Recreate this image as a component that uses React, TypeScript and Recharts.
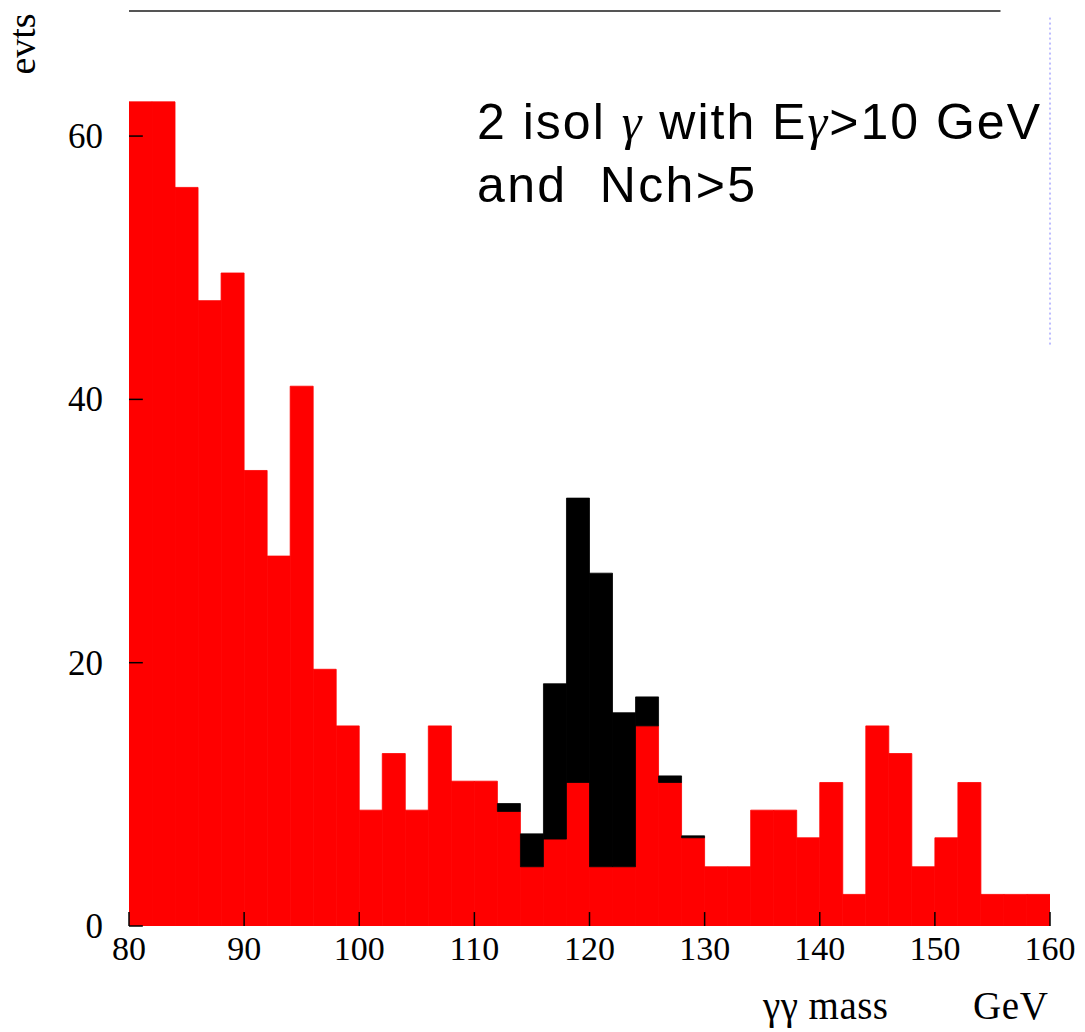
import React from 'react';
import { ComposedChart, Bar, XAxis, YAxis, ReferenceLine } from 'recharts';

// bin centres of 2 GeV bins, 80..160 GeV
const massBinCenters = [
  81, 83, 85, 87, 89, 91, 93, 95, 97, 99,
  101, 103, 105, 107, 109, 111, 113, 115, 117, 119,
  121, 123, 125, 127, 129, 131, 133, 135, 137, 139,
  141, 143, 145, 147, 149, 151, 153, 155, 157, 159,
];

// background (red) events per bin
const backgroundEvts = [
  62.6, 62.6, 56.1, 47.5, 49.6, 34.6, 28.1, 41.0, 19.5, 15.2,
  8.8, 13.1, 8.8, 15.2, 11.0, 11.0, 8.7, 4.5, 6.6, 10.9,
  4.5, 4.5, 15.2, 10.9, 6.7, 4.5, 4.5, 8.8, 8.8, 6.7,
  10.9, 2.4, 15.2, 13.1, 4.5, 6.7, 10.9, 2.4, 2.4, 2.4,
];

// signal (black) events stacked on top
const signalEvts = [
  0, 0, 0, 0, 0, 0, 0, 0, 0, 0,
  0, 0, 0, 0, 0, 0, 0.6, 2.5, 11.8, 21.6,
  22.3, 11.7, 2.2, 0.5, 0.15, 0, 0, 0, 0, 0,
  0, 0, 0, 0, 0, 0, 0, 0, 0, 0,
];

const xTicks = [80, 90, 100, 110, 120, 130, 140, 150, 160];
const yTicks = [0, 20, 40, 60];

const data = massBinCenters.map((x, i) => ({ x, bg: backgroundEvts[i], sig: signalEvts[i] }));

const SERIF = '"Liberation Serif", "Times New Roman", serif';
const SANS = '"Liberation Sans", Arial, sans-serif';

const X_DOMAIN: [number, number] = [80, 160];
const Y_DOMAIN: [number, number] = [0, 69.5];
const MARGIN = { top: 11, right: 35, bottom: 56, left: 29 };

// inward tick-mark lengths in axis units (about 14 px)
const X_TICK_LEN = 1.06;
const Y_TICK_LEN = 1.2;

const YTick = (props: any) => {
  const { x, y, payload } = props;
  return (
    <text x={x} y={y} dy={12} textAnchor="end" fontFamily={SERIF} fontSize={35} fill="#000">
      {payload.value}
    </text>
  );
};

const XTick = (props: any) => {
  const { x, y, payload } = props;
  return (
    <text x={x} y={y} dy={24} textAnchor="middle" fontFamily={SERIF} fontSize={34} fill="#000">
      {payload.value}
    </text>
  );
};

export default function App() {
  return (
    <div style={{ position: 'absolute', left: 0, top: 0, width: 1085, height: 1032, background: '#fff' }}>
      <ComposedChart
        width={1085}
        height={1032}
        data={data}
        margin={MARGIN}
        barCategoryGap={0}
        barGap={0}
      >
        <XAxis
          dataKey="x"
          type="number"
          domain={X_DOMAIN}
          ticks={xTicks}
          allowDataOverflow
          height={50}
          axisLine={false}
          tickLine={false}
          tickSize={0}
          tickMargin={10}
          tick={<XTick />}
          interval={0}
        />
        <YAxis
          type="number"
          domain={Y_DOMAIN}
          ticks={yTicks}
          allowDataOverflow
          width={100}
          axisLine={false}
          tickLine={false}
          tickSize={0}
          tickMargin={26}
          tick={<YTick />}
          interval={0}
        />
        <Bar dataKey="bg" stackId="a" fill="#ff0000" stroke="#ff0000" strokeWidth={0.8} isAnimationActive={false} />
        <Bar dataKey="sig" stackId="a" fill="#000000" stroke="#000000" strokeWidth={0.8} isAnimationActive={false} />
      </ComposedChart>

      {/* overlay chart with the same scales: frame line and inward tick marks drawn above the bars */}
      <div style={{ position: 'absolute', left: 0, top: 0, pointerEvents: 'none' }}>
        <ComposedChart width={1085} height={1032} data={data} margin={MARGIN}>
          <XAxis
            dataKey="x"
            type="number"
            domain={X_DOMAIN}
            ticks={xTicks}
            allowDataOverflow
            height={50}
            axisLine={false}
            tickLine={false}
            tick={false}
          />
          <YAxis
            type="number"
            domain={Y_DOMAIN}
            ticks={yTicks}
            allowDataOverflow
            width={100}
            axisLine={false}
            tickLine={false}
            tick={false}
          />
          <ReferenceLine
            segment={[{ x: 80, y: 69.5 }, { x: 155.7, y: 69.5 }]}
            stroke="#555"
            strokeWidth={2}
            ifOverflow="visible"
          />
          <ReferenceLine
            segment={[{ x: 160, y: 69 }, { x: 160, y: 44 }]}
            stroke="#7a7aff"
            strokeDasharray="2 3"
            strokeWidth={1}
            ifOverflow="visible"
          />
          {xTicks.map((t) => (
            <ReferenceLine
              key={'xt' + t}
              segment={[{ x: t, y: 0 }, { x: t, y: X_TICK_LEN }]}
              stroke="#000"
              strokeWidth={1.5}
              ifOverflow="visible"
            />
          ))}
          {yTicks.map((t) => (
            <ReferenceLine
              key={'yt' + t}
              segment={[{ x: 80, y: t }, { x: 80 + Y_TICK_LEN, y: t }]}
              stroke="#000"
              strokeWidth={1.5}
              ifOverflow="visible"
            />
          ))}
        </ComposedChart>
      </div>

      <svg
        width={1085}
        height={1032}
        style={{ position: 'absolute', left: 0, top: 0, pointerEvents: 'none' }}
      >
        <text
          transform="translate(35,44) rotate(-90)"
          textAnchor="middle"
          fontFamily={SERIF}
          fontSize={38}
          fill="#000"
        >
          evts
        </text>
        <text x={477} y={139} fontFamily={SANS} fontSize={50} fill="#000" textLength={563} lengthAdjust="spacing">
          2 isol <tspan fontFamily={SERIF} fontStyle="italic">γ</tspan> with E<tspan fontFamily={SERIF} fontStyle="italic">γ</tspan>&gt;10 GeV
        </text>
        <text
          x={477}
          y={202}
          fontFamily={SANS}
          fontSize={50}
          fill="#000"
          textLength={278}
          lengthAdjust="spacing"
          style={{ whiteSpace: 'pre' }}
        >
          {'and  Nch>5'}
        </text>
        <text x={763} y={1019} fontFamily={SERIF} fontSize={39} fill="#000" textLength={125} lengthAdjust="spacing">
          γγ mass
        </text>
        <text x={973} y={1019} fontFamily={SERIF} fontSize={39} fill="#000" textLength={75} lengthAdjust="spacing">
          GeV
        </text>
      </svg>
    </div>
  );
}
